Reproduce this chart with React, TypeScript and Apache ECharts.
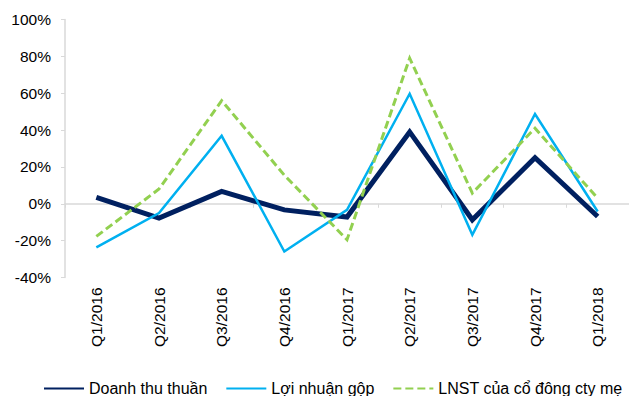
import React, { useEffect, useRef } from "react";
import * as echarts from "echarts";

const categories = ["Q1/2016", "Q2/2016", "Q3/2016", "Q4/2016", "Q1/2017", "Q2/2017", "Q3/2017", "Q4/2017", "Q1/2018"];
const doanhThu = [3.5, -7.8, 6.7, -3.3, -7.2, 39, -8.7, 25, -6.9];
const loiNhuanGop = [-23.7, -5, 36.9, -25.9, -3.3, 59.7, -16.8, 48.7, -4.2];
const lnst = [-17.7, 8, 56, 15.5, -19.5, 79, 5.8, 41, 3];
const seriesNames = ["Doanh thu thuần", "Lợi nhuận gộp", "LNST của cổ đông cty mẹ"];

export default function App() {
  const ref = useRef<HTMLDivElement>(null);
  useEffect(() => {
    if (!ref.current) return;
    const chart = echarts.init(ref.current, null, { renderer: "svg" });
    const font = "'Liberation Sans', Arial, sans-serif";
    chart.setOption({
      animation: false,
      textStyle: { fontFamily: font },
      grid: { left: 65, top: 19.5, width: 573, height: 258 },
      legend: {
        left: 43,
        top: 380.5,
        width: 586,
        padding: 0,
        itemWidth: 40,
        itemHeight: 14,
        itemGap: 18,
        itemStyle: { opacity: 0 },
        textStyle: { fontSize: 16, color: "#000", fontFamily: font },
        data: seriesNames,
      },
      xAxis: [
        {
          type: "category",
          data: categories,
          position: "bottom",
          axisLine: { show: false, onZero: false },
          axisTick: { show: false },
          axisLabel: { rotate: 90, fontSize: 15.5, color: "#000", margin: 10, fontFamily: font },
        },
        {
          type: "category",
          data: categories,
          position: "bottom",
          axisLine: { show: true, onZero: true, lineStyle: { color: "#d9d9d9", width: 1.5 } },
          axisTick: { show: true, length: 4, lineStyle: { color: "#d9d9d9" } },
          axisLabel: { show: false },
        },
      ],
      yAxis: {
        type: "value",
        min: -40,
        max: 100,
        interval: 20,
        axisLine: { show: true, lineStyle: { color: "#d9d9d9", width: 1.5 } },
        axisTick: { show: true, length: 4, lineStyle: { color: "#d9d9d9" } },
        splitLine: { show: false },
        axisLabel: { formatter: "{value}%", fontSize: 15.5, color: "#000", margin: 14, fontFamily: font },
      },
      series: [
        {
          name: seriesNames[0],
          type: "line",
          data: doanhThu,
          symbol: "none",
          lineStyle: { color: "#002060", width: 5, join: "miter" },
          itemStyle: { color: "#002060" },
        },
        {
          name: seriesNames[1],
          type: "line",
          data: loiNhuanGop,
          symbol: "none",
          lineStyle: { color: "#00B0F0", width: 2.5, join: "miter" },
          itemStyle: { color: "#00B0F0" },
        },
        {
          name: seriesNames[2],
          type: "line",
          data: lnst,
          symbol: "none",
          lineStyle: { color: "#92D050", width: 3, type: [8, 4], join: "miter" },
          itemStyle: { color: "#92D050" },
        },
      ],
    });
    return () => chart.dispose();
  }, []);
  return <div ref={ref} style={{ position: "fixed", left: 0, top: 0, width: 629, height: 396, background: "#fff" }} />;
}
